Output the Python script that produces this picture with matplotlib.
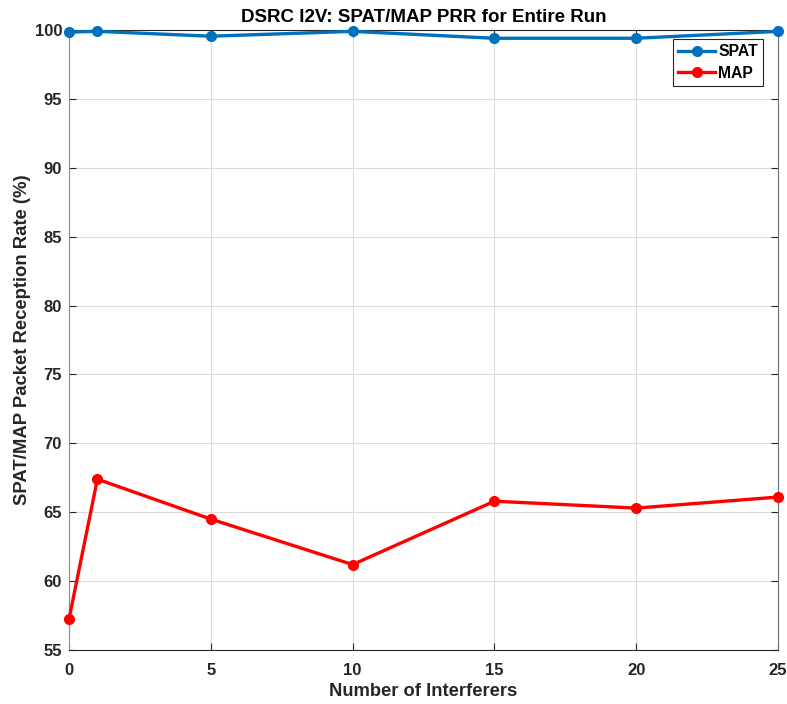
import matplotlib
matplotlib.use("Agg")
import matplotlib.pyplot as plt

plt.rcParams['font.family'] = ['Liberation Sans', 'DejaVu Sans']
plt.rcParams['font.weight'] = 'bold'

interferers = [0, 1, 5, 10, 15, 20, 25]
spat = [99.85, 99.9, 99.55, 99.9, 99.4, 99.4, 99.9]
map_prr = [57.25, 67.4, 64.5, 61.2, 65.8, 65.3, 66.1]
xticks = [0, 5, 10, 15, 20, 25]
yticks = [55, 60, 65, 70, 75, 80, 85, 90, 95, 100]

fig = plt.figure(figsize=(7.87, 7.04), dpi=100)
ax = fig.add_axes([0.0877, 0.0767, 0.9009, 0.8807])

ax.plot(interferers, spat, '-o', color='#0072BD', lw=2.4, ms=7, label='SPAT', clip_on=False, zorder=3)
ax.plot(interferers, map_prr, '-o', color='#FF0000', lw=2.4, ms=7, label='MAP', clip_on=False, zorder=3)

ax.set_xlim(0, 25)
ax.set_ylim(55, 100)
ax.set_xticks(xticks)
ax.set_yticks(yticks)
ax.grid(True, color='#dcdcdc', lw=0.8)
ax.set_axisbelow(True)
for s in ax.spines.values():
    s.set_color('#262626')
    s.set_linewidth(0.8)
ax.spines['left'].set_color('#8c8c8c')
ax.spines['right'].set_color('#6e6e6e')
ax.tick_params(direction='in', length=5, labelsize=12, colors='#262626', width=0.8,
               top=True, right=True)
ax.tick_params(axis='x', pad=9)
ax.tick_params(axis='y', pad=5)
for lab in ax.get_xticklabels() + ax.get_yticklabels():
    lab.set_fontweight('bold')

ax.set_xlabel('Number of Interferers', fontsize=13.2, fontweight='bold', color='#262626', labelpad=4)
ax.set_ylabel('SPAT/MAP Packet Reception Rate (%)', fontsize=13.3, fontweight='bold', color='#262626', labelpad=2.5)
ax.set_title('DSRC I2V: SPAT/MAP PRR for Entire Run', fontsize=13.5, fontweight='bold', pad=6)

leg = ax.legend(loc='upper right', bbox_to_anchor=(0.979, 0.9855), borderaxespad=0, fancybox=False,
                edgecolor='#262626', fontsize=11.3, handlelength=2.3, borderpad=0.32,
                labelspacing=0.42, handletextpad=0.25, framealpha=1)
leg.get_frame().set_linewidth(0.8)
for t in leg.get_texts():
    t.set_fontweight('bold')

fig.savefig('out.png', dpi=100)
